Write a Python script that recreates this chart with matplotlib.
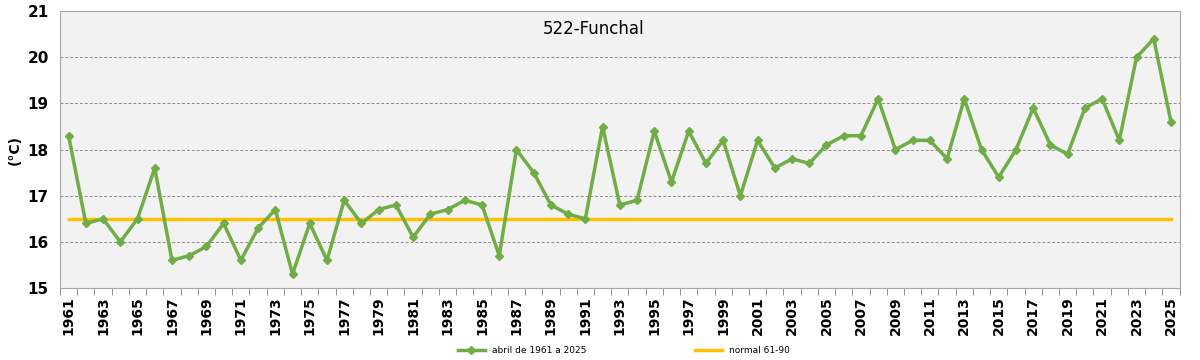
import numpy as np
import matplotlib
matplotlib.use("Agg")
import matplotlib.pyplot as plt

# dados de abril, Funchal
anos = list(range(1961, 2026))
temp = [18.3, 16.4, 16.5, 16.0, 16.5, 17.6, 15.6, 15.7, 15.9, 16.4,
        15.6, 16.3, 16.7, 15.3, 16.4, 15.6, 16.9, 16.4, 16.7, 16.8,
        16.1, 16.6, 16.7, 16.9, 16.8, 15.7, 18.0, 17.5, 16.8, 16.6,
        16.5, 18.5, 16.8, 16.9, 18.4, 17.3, 18.4, 17.7, 18.2, 17.0,
        18.2, 17.6, 17.8, 17.7, 18.1, 18.3, 18.3, 19.1, 18.0, 18.2,
        18.2, 17.8, 19.1, 18.0, 17.4, 18.0, 18.9, 18.1, 17.9, 18.9,
        19.1, 18.2, 20.0, 20.4, 18.6]
normal = [16.5] * len(anos)

verde = '#70ad47'
amarelo = '#ffc000'

fig = plt.figure(figsize=(12, 3.6), dpi=100)
ax = fig.add_axes([0.05, 0.2, 0.933, 0.769])
ax.set_facecolor('#f2f2f2')

x = np.arange(len(anos))
ax.plot(x, temp, color=verde, lw=2.5, marker='D', ms=4.5,
        label='abril de 1961 a 2025', zorder=3)
ax.plot(x, normal, color=amarelo, lw=2.5, label='normal 61-90', zorder=2)

ax.set_xlim(-0.5, len(anos) - 0.5)
ax.set_ylim(15, 21)
ax.set_yticks(range(15, 22))
ax.yaxis.grid(True, ls=(0, (3, 2)), color='#8c8c8c', lw=0.7)
ax.set_axisbelow(True)

ax.set_xticks(x[::2])
ax.set_xticklabels([str(a) for a in anos[::2]], rotation=90,
                   fontweight='bold', fontsize=10)
ax.set_xticks(np.arange(len(anos) + 1) - 0.5, minor=True)
ax.tick_params(axis='x', which='major', length=0, pad=6)
ax.tick_params(axis='x', which='minor', length=5, color='#808080')
ax.tick_params(axis='y', length=0, labelsize=11, pad=8)
for t in ax.get_yticklabels():
    t.set_fontweight('bold')

for s in ['top', 'right', 'left', 'bottom']:
    ax.spines[s].set_color('#a6a6a6')

ax.set_ylabel('(°C)', fontweight='bold', fontsize=10, labelpad=4)
ax.text(0.477, 0.935, '522-Funchal', transform=ax.transAxes,
        ha='center', va='center', fontsize=12)

fig.legend(loc='lower center', ncol=2, frameon=False, fontsize=6.5,
           bbox_to_anchor=(0.52, -0.01), columnspacing=12, handlelength=3)

fig.savefig('out.png')
